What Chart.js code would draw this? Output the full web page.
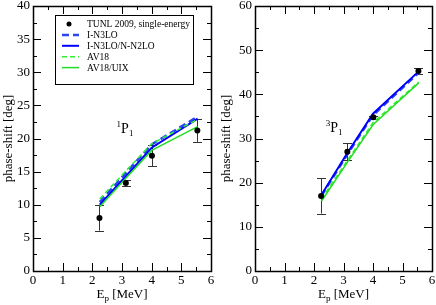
<!DOCTYPE html>
<html>
<head>
<meta charset="utf-8">
<script src="https://cdn.jsdelivr.net/npm/chart.js@4"></script>
<style>
html, body { margin: 0; padding: 0; background: #fff; }
#wrap { position: relative; width: 436px; height: 305px; }
.panel { position: absolute; top: 0; width: 218px; height: 305px; }
</style>
</head>
<body>
<div id="wrap">
  <div class="panel" style="left:0"><canvas id="p1" width="218" height="305"></canvas></div>
  <div class="panel" style="left:218px"><canvas id="p3" width="218" height="305"></canvas></div>
</div>
<script>
/* ─── data ─── */
const energiesData = [2.24, 3.13, 4.01, 5.54];
const energiesCalc = [2.25, 3.13, 4.0, 5.55];

// 1P1 panel
const p1Tunl      = [8.0, 13.3, 17.4, 21.2];
const p1TunlErr   = [1.9, 0.4, 1.6, 1.7];
const p1N3lo      = [10.4, 14.8, 19.1, 23.3];
const p1N3loN2lo  = [10.0, 14.3, 18.6, 23.0];
const p1Av18      = [10.9, 15.1, 19.2, 22.9];
const p1Av18Uix   = [9.7, 14.0, 18.2, 21.8];

// 3P1 panel
const p3Tunl      = [17.0, 27.0, 34.8, 45.3];
const p3TunlErr   = [4.0, 1.9, 0.4, 0.6];
const p3N3lo      = [17.0, 26.4, 35.3, 44.9];
const p3N3loN2lo  = [17.2, 26.7, 35.6, 45.2];
const p3Av18      = [16.3, 25.0, 33.6, 42.8];
const p3Av18Uix   = [15.8, 24.6, 33.1, 42.6];

const seriesLabels = ['TUNL 2009, single-energy', 'I-N3LO', 'I-N3LO/N-N2LO', 'AV18', 'AV18/UIX'];

const SERIF = '"Liberation Serif", "DejaVu Serif", serif';

const lineStyles = [
    { color: '#000000' },
    { color: '#2a46f0', width: 2.5, dash: [7, 4] },
    { color: '#0000ff', width: 2,   dash: [] },
    { color: '#33ee33', width: 1.5, dash: [5, 3] },
    { color: '#22dd22', width: 1.5, dash: [] },
];

/* ─── frame, inward ticks, error bars, labels, legend ─── */
const framePlugin = {
    id: 'frame',
    beforeDatasetsDraw(chart, args, o) {
        const { ctx, scales: { x, y } } = chart;
        const pts = chart.data.datasets[0].data;
        ctx.save();
        ctx.strokeStyle = '#333';
        ctx.lineWidth = 1;
        pts.forEach((p, i) => {
            const px = Math.round(x.getPixelForValue(p.x)) + 0.5;
            const yt = y.getPixelForValue(p.y + o.errors[i]);
            const yb = y.getPixelForValue(p.y - o.errors[i]);
            ctx.beginPath();
            ctx.moveTo(px, yt); ctx.lineTo(px, yb);
            ctx.moveTo(px - 4.5, Math.round(yt) + 0.5); ctx.lineTo(px + 4.5, Math.round(yt) + 0.5);
            ctx.moveTo(px - 4.5, Math.round(yb) + 0.5); ctx.lineTo(px + 4.5, Math.round(yb) + 0.5);
            ctx.stroke();
        });
        ctx.restore();
    },
    afterDraw(chart, args, o) {
        const { ctx, chartArea: a, scales: { x, y } } = chart;
        ctx.save();
        ctx.strokeStyle = '#000';
        ctx.lineWidth = 1;
        const seg = (x1, y1, x2, y2) => { ctx.beginPath(); ctx.moveTo(x1, y1); ctx.lineTo(x2, y2); ctx.stroke(); };

        // x ticks, top and bottom
        for (let v = x.min; v <= x.max + 1e-9; v += o.xStep / 2) {
            const px = Math.round(x.getPixelForValue(v)) + 0.5;
            const len = Math.abs(v / o.xStep - Math.round(v / o.xStep)) < 1e-6 ? 8 : 4;
            seg(px, a.bottom, px, a.bottom - len);
            seg(px, a.top, px, a.top + len);
        }
        // y ticks, left and right
        for (let v = y.min; v <= y.max + 1e-9; v += o.yStep / 2) {
            const py = Math.round(y.getPixelForValue(v)) + 0.5;
            const len = Math.abs(v / o.yStep - Math.round(v / o.yStep)) < 1e-6 ? 8 : 4;
            seg(a.left, py, a.left + len, py);
            seg(a.right, py, a.right - len, py);
        }
        ctx.lineWidth = 1.5;
        ctx.strokeRect(Math.round(a.left) + 0.5, Math.round(a.top) + 0.5,
                       Math.round(a.right - a.left), Math.round(a.bottom - a.top));

        ctx.fillStyle = '#000';
        // y title
        ctx.save();
        ctx.translate(9, (a.top + a.bottom) / 2);
        ctx.rotate(-Math.PI / 2);
        ctx.font = '13px ' + SERIF;
        ctx.textAlign = 'center';
        ctx.textBaseline = 'middle';
        ctx.fillText('phase-shift [deg]', 0, 0);
        ctx.restore();

        // x title: E_p [MeV]
        ctx.textBaseline = 'alphabetic';
        ctx.textAlign = 'left';
        ctx.font = '13px ' + SERIF;
        const wE = ctx.measureText('E').width;
        const wRest = ctx.measureText(' [MeV]').width;
        ctx.font = '9px ' + SERIF;
        const wp = ctx.measureText('p').width;
        let tx = (a.left + a.right) / 2 - (wE + wp + wRest) / 2;
        ctx.font = '13px ' + SERIF;
        ctx.fillText('E', tx, 298);
        ctx.font = '9px ' + SERIF;
        ctx.fillText('p', tx + wE, 301);
        ctx.font = '13px ' + SERIF;
        ctx.fillText(' [MeV]', tx + wE + wp, 298);

        // wave label like 1P1
        const lx = x.getPixelForValue(o.wave.x), ly = y.getPixelForValue(o.wave.y);
        ctx.font = '9px ' + SERIF;
        const wSup = ctx.measureText(o.wave.sup).width;
        ctx.fillText(o.wave.sup, lx - wSup, ly - 6);
        ctx.font = '14px ' + SERIF;
        const wP = ctx.measureText('P').width;
        ctx.fillText('P', lx, ly);
        ctx.font = '9px ' + SERIF;
        ctx.fillText('1', lx + wP, ly + 3);

        // legend
        if (o.legend) {
            const L = o.legend;
            ctx.lineWidth = 1;
            ctx.strokeRect(L.x + 0.5, L.y + 0.5, L.w, L.h);
            ctx.font = '9.5px ' + SERIF;
            ctx.textBaseline = 'middle';
            seriesLabels.forEach((lab, i) => {
                const ry = L.y + 9 + i * 10.9;
                const s = lineStyles[i];
                if (i === 0) {
                    ctx.beginPath();
                    ctx.arc(L.x + 14, ry, 2.5, 0, Math.PI * 2);
                    ctx.fill();
                } else {
                    ctx.save();
                    ctx.strokeStyle = s.color;
                    ctx.lineWidth = s.width;
                    ctx.setLineDash(s.dash);
                    seg(L.x + 7, ry, L.x + 24, ry);
                    ctx.restore();
                }
                ctx.fillText(lab, L.x + 32, ry + 0.5);
            });
        }
        ctx.restore();
    }
};

function makeDatasets(tunl, calc) {
    const ds = [{
        label: seriesLabels[0],
        data: energiesData.map((e, i) => ({ x: e, y: tunl[i] })),
        showLine: false,
        pointRadius: 3,
        pointBackgroundColor: '#000',
        pointBorderWidth: 0,
        order: 0
    }];
    calc.forEach((vals, k) => {
        const s = lineStyles[k + 1];
        ds.push({
            label: seriesLabels[k + 1],
            data: energiesCalc.map((e, i) => ({ x: e, y: vals[i] })),
            showLine: true,
            borderColor: s.color,
            borderWidth: s.width,
            borderDash: s.dash,
            pointRadius: 0,
            fill: false,
            tension: 0,
            order: 4 - k
        });
    });
    return ds;
}

function makeChart(id, tunl, errs, calc, cfg) {
    const tickFont = { family: SERIF, size: 13 };
    return new Chart(document.getElementById(id), {
        type: 'scatter',
        data: { datasets: makeDatasets(tunl, calc) },
        plugins: [framePlugin],
        options: {
            responsive: false,
            animation: false,
            devicePixelRatio: 1,
            layout: { padding: { top: cfg.top, right: cfg.right, left: 0, bottom: 0 } },
            plugins: {
                legend: { display: false },
                tooltip: { enabled: false },
                frame: {
                    errors: errs,
                    xStep: 1,
                    yStep: cfg.yStep,
                    wave: cfg.wave,
                    legend: cfg.legend
                }
            },
            scales: {
                x: {
                    type: 'linear', min: 0, max: 6,
                    ticks: { stepSize: 1, font: tickFont, color: '#000', padding: 2, maxRotation: 0 },
                    grid: { display: false, drawTicks: false },
                    border: { display: false },
                    afterFit(s) { s.height = 34; s.paddingLeft = 0; s.paddingRight = 0; }
                },
                y: {
                    type: 'linear', min: 0, max: cfg.yMax,
                    ticks: { stepSize: cfg.yStep, font: tickFont, color: '#000', padding: 3 },
                    grid: { display: false, drawTicks: false },
                    border: { display: false },
                    afterFit(s) { s.width = cfg.yWidth; s.paddingTop = 0; s.paddingBottom = 0; }
                }
            }
        }
    });
}

makeChart('p1', p1Tunl, p1TunlErr, [p1N3lo, p1N3loN2lo, p1Av18, p1Av18Uix], {
    top: 6, right: 7, yWidth: 33, yMax: 40, yStep: 5,
    wave: { x: 2.97, y: 20.8, sup: '1' },
    legend: { x: 55, y: 15, w: 138, h: 69 }
});

makeChart('p3', p3Tunl, p3TunlErr, [p3N3lo, p3N3loN2lo, p3Av18, p3Av18Uix], {
    top: 6, right: 4, yWidth: 37, yMax: 60, yStep: 10,
    wave: { x: 2.55, y: 31.5, sup: '3' }
});
</script>
</body>
</html>
